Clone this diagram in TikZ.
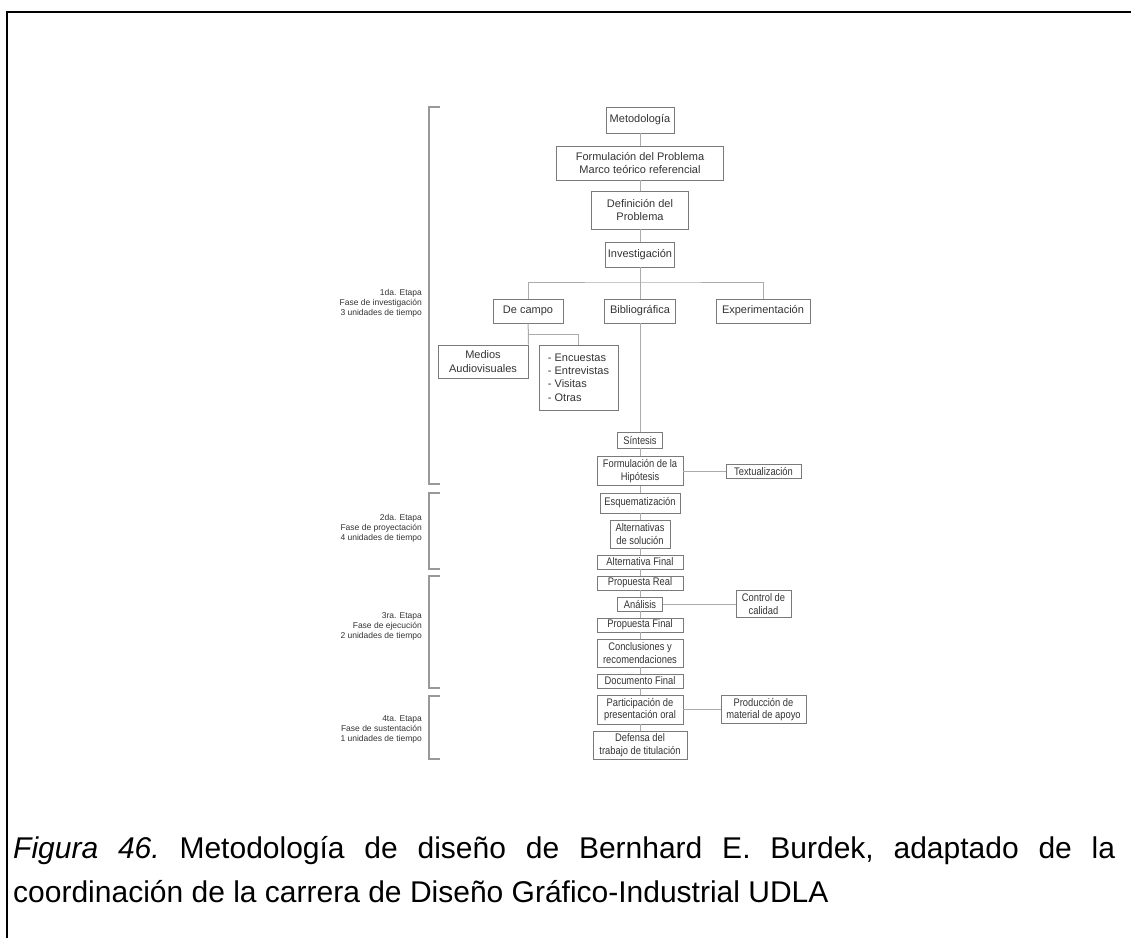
\documentclass[tikz,border=0pt]{standalone}
\usepackage{fontspec}
\setmainfont{Liberation Sans}
\newfontfamily\narrowfont[FakeStretch=0.85]{Liberation Sans}
\usetikzlibrary{calc}
\definecolor{bx}{HTML}{7a7a7a}
\definecolor{ln}{HTML}{ababab}
\definecolor{tx}{HTML}{333333}
\tikzset{
    box/.style={draw=bx, line width=0.9pt, inner sep=0pt, align=center, text=tx,
        font=\fontsize{11}{13.3}\selectfont},
    nbox/.style={box, font=\narrowfont\fontsize{11}{12.5}\selectfont},
    lnk/.style={draw=ln, line width=1pt},
    brk/.style={draw=black!40, line width=1.2pt},
    stage/.style={anchor=east, align=right, inner sep=0pt, text=tx,
        font=\fontsize{8.5}{10}\selectfont}
}

\begin{document}
\begin{tikzpicture}[x=1pt, y=-1pt]
			\useasboundingbox (0,0) rectangle (1131,938);

			% Page frame
			\draw[line width=2.2pt] (7,938) -- (7,12) -- (1131,12);

			% Upper part of the scheme
			\node[box, minimum width=68pt, minimum height=26pt] (met) at (640,120) {Metodología};
			\node[box, minimum width=167pt, minimum height=34pt] (form) at (640,163) {Formulación del Problema\\Marco teórico referencial};
			\node[box, minimum width=97pt, minimum height=38pt] (defi) at (640,210) {Definición del\\Problema};
			\node[box, minimum width=69pt, minimum height=25pt] (inv) at (640,254.5) {Investigación};
			\node[box, minimum width=70pt, minimum height=24pt] (camp) at (528,311) {De campo};
			\node[box, minimum width=71pt, minimum height=24pt] (bib) at (640,311) {Bibliográfica};
			\node[box, minimum width=94pt, minimum height=24pt] (exp) at (763,311) {Experimentación};
			\node[box, minimum width=90pt, minimum height=33pt] (med) at (483,361.5) {Medios\\Audiovisuales};
			\node[box, align=left, minimum width=79pt, minimum height=65pt] (encu) at (578.5,377.5) {- Encuestas\\- Entrevistas\\- Visitas\\- Otras};

			% Main column
			\node[nbox, minimum width=45pt, minimum height=16pt] (sint) at (640,440) {Síntesis};
			\node[nbox, minimum width=86pt, minimum height=29pt] (hip) at (640,471) {Formulación de la\\Hipótesis};
			\node[nbox, minimum width=75pt, minimum height=14pt] (textu) at (763.5,471) {Textualización};
			\node[nbox, minimum width=80pt, minimum height=20pt] (esq) at (640,503) {Esquematización};
			\node[nbox, minimum width=60pt, minimum height=28pt] (alt) at (640,534) {Alternativas\\de solución};
			\node[nbox, minimum width=86pt, minimum height=14pt] (altf) at (640,562) {Alternativa Final};
			\node[nbox, minimum width=86pt, minimum height=14pt] (preal) at (640,583) {Propuesta Real};
			\node[nbox, minimum width=45pt, minimum height=14pt] (anal) at (640,604) {Análisis};
			\node[nbox, minimum width=55pt, minimum height=27pt] (ctrl) at (763.5,604) {Control de\\calidad};
			\node[nbox, minimum width=86pt, minimum height=14pt] (pfin) at (640,625) {Propuesta Final};
			\node[nbox, minimum width=86pt, minimum height=28pt] (concl) at (640,653) {Conclusiones y\\recomendaciones};
			\node[nbox, minimum width=86pt, minimum height=14pt] (docf) at (640,681) {Documento Final};
			\node[nbox, minimum width=86pt, minimum height=29pt] (part) at (640,709.5) {Participación de\\presentación oral};
			\node[nbox, minimum width=85pt, minimum height=28pt] (prod) at (763.5,709.5) {Producción de\\material de apoyo};
			\node[nbox, minimum width=94pt, minimum height=28pt] (def) at (640,745) {Defensa del\\trabajo de titulación};

			% Connectors
			\coordinate (fork) at (640,282);
			\coordinate (fork2) at (528,334);
			\draw[lnk] (met) -- (form);
			\draw[lnk] (form) -- (defi);
			\draw[lnk] (defi) -- (inv);
			\draw[lnk] (inv) -- (bib);
			\draw[lnk] (camp.north) |- (fork) -| (exp.north);
			\draw[lnk] (camp) -- (med.north east);
			\draw[lnk] (fork2) -| (encu.north);
			\foreach \a/\b in {bib/sint, sint/hip, hip/esq, esq/alt, alt/altf, altf/preal,
					preal/anal, anal/pfin, pfin/concl, concl/docf, docf/part, part/def} {
					\draw[lnk] (\a) -- (\b);
				}
			\draw[lnk] (hip) -- (textu);
			\draw[lnk] (anal) -- (ctrl);
			\draw[lnk] (part) -- (prod);

			% Stage brackets
			\foreach \t/\b in {107/484, 493/569, 576/688, 696/759} {
					\draw[brk] (440,\t) -- (429,\t) -- (429,\b) -- (440,\b);
				}
			\node[stage] (lab1) at (422,303) {1da. Etapa\\Fase de investigación\\3 unidades de tiempo};
			\node[stage] (lab2) at (422,528) {2da. Etapa\\Fase de proyectación\\4 unidades de tiempo};
			\node[stage] (lab3) at (422,626) {3ra. Etapa\\Fase de ejecución\\2 unidades de tiempo};
			\node[stage] (lab4) at (422,729) {4ta. Etapa\\Fase de sustentación\\1 unidades de tiempo};

			% Caption
			\node[anchor=base west, text width=1102pt, align=justify, inner sep=0pt,
				font=\fontsize{30}{44}\selectfont\frenchspacing] (cap) at (13,858)
				{\textit{Figura 46.} Metodología de diseño de Bernhard E. Burdek, adaptado de la\linebreak
					coordinación de la carrera de Diseño Gráfico-Industrial UDLA};
		\end{tikzpicture}
\end{document}
